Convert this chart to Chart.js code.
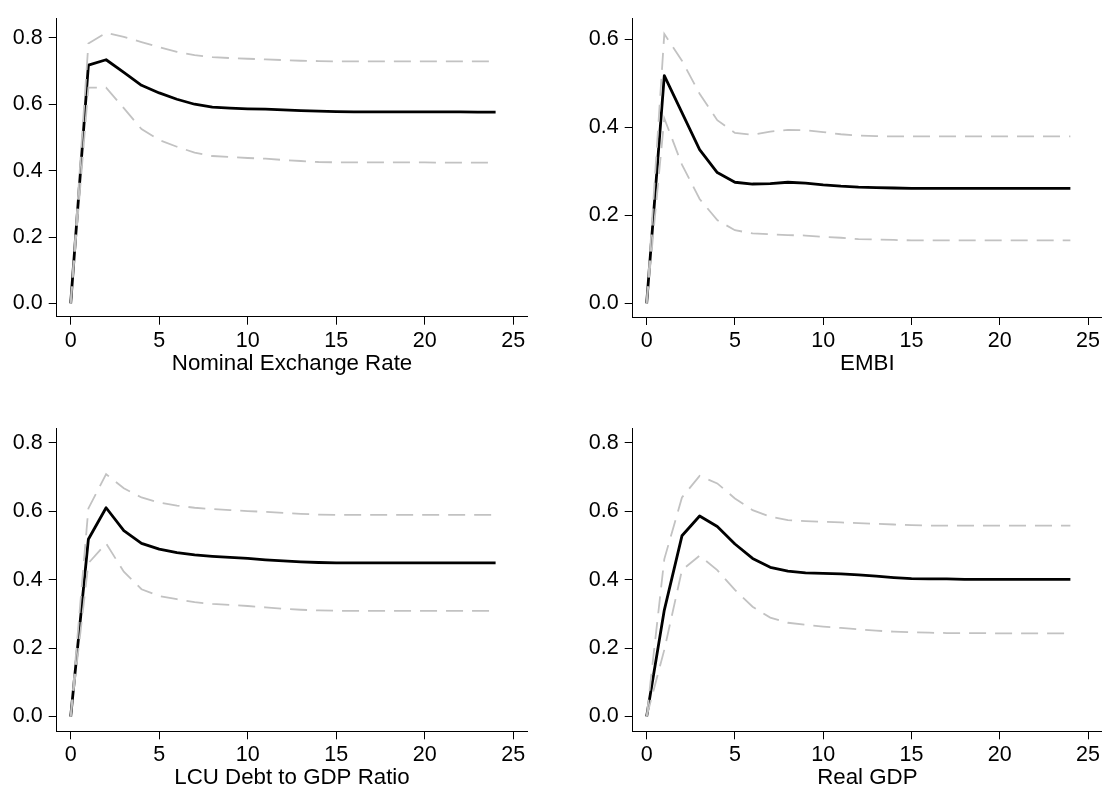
<!DOCTYPE html>
<html lang="en">

<head>
    <meta charset="UTF-8">
    <title>Impulse responses</title>
    <style>
        html, body {
            margin: 0;
            padding: 0;
            background: #fff;
            overflow: hidden;
        }

        .panel {
            position: absolute;
        }
    </style>
</head>

<body>
    <canvas id="p1" class="panel" width="550" height="400" style="left:0px;top:0px"></canvas>
    <canvas id="p2" class="panel" width="553" height="400" style="left:550px;top:0px"></canvas>
    <canvas id="p3" class="panel" width="550" height="410" style="left:0px;top:390px"></canvas>
    <canvas id="p4" class="panel" width="553" height="410" style="left:550px;top:390px"></canvas>

    <script src="https://cdn.jsdelivr.net/npm/chart.js"></script>
    <script>
        // horizon (periods after the shock)
        const periods = [0, 1, 2, 3, 4, 5, 6, 7, 8, 9, 10, 11, 12, 13, 14, 15, 16, 17, 18, 19, 20, 21, 22, 23, 24];
        const xTicks = [0, 5, 10, 15, 20, 25];

        // Nominal Exchange Rate
        const nerMid = [0, 0.718, 0.734, 0.696, 0.657, 0.634, 0.615, 0.600, 0.591, 0.588, 0.586, 0.585, 0.583, 0.581, 0.579, 0.578, 0.577, 0.577, 0.577, 0.577, 0.577, 0.577, 0.577, 0.576, 0.576];
        const nerHi = [0, 0.783, 0.815, 0.803, 0.787, 0.772, 0.758, 0.748, 0.742, 0.739, 0.737, 0.735, 0.733, 0.731, 0.730, 0.729, 0.729, 0.729, 0.729, 0.729, 0.729, 0.729, 0.729, 0.729, 0.729];
        const nerLo = [0, 0.650, 0.650, 0.588, 0.525, 0.492, 0.472, 0.454, 0.444, 0.441, 0.438, 0.436, 0.432, 0.429, 0.426, 0.425, 0.425, 0.425, 0.425, 0.425, 0.425, 0.424, 0.424, 0.424, 0.424];

        // EMBI
        const embiMid = [0, 0.517, 0.433, 0.349, 0.297, 0.275, 0.271, 0.272, 0.275, 0.273, 0.269, 0.266, 0.264, 0.263, 0.262, 0.261, 0.261, 0.261, 0.261, 0.261, 0.261, 0.261, 0.261, 0.261, 0.261];
        const embiHi = [0, 0.612, 0.551, 0.476, 0.416, 0.387, 0.383, 0.390, 0.394, 0.393, 0.389, 0.384, 0.381, 0.380, 0.379, 0.379, 0.379, 0.379, 0.379, 0.379, 0.379, 0.379, 0.379, 0.379, 0.379];
        const embiLo = [0, 0.420, 0.315, 0.237, 0.189, 0.166, 0.159, 0.157, 0.155, 0.154, 0.151, 0.149, 0.146, 0.145, 0.144, 0.143, 0.143, 0.143, 0.143, 0.143, 0.143, 0.143, 0.143, 0.143, 0.143];

        // LCU Debt to GDP Ratio
        const debtMid = [0, 0.518, 0.610, 0.543, 0.506, 0.489, 0.479, 0.472, 0.468, 0.465, 0.462, 0.458, 0.455, 0.452, 0.450, 0.449, 0.449, 0.449, 0.449, 0.449, 0.449, 0.449, 0.449, 0.449, 0.449];
        const debtHi = [0, 0.608, 0.708, 0.667, 0.640, 0.625, 0.616, 0.610, 0.606, 0.603, 0.600, 0.598, 0.595, 0.592, 0.590, 0.589, 0.589, 0.589, 0.589, 0.589, 0.589, 0.589, 0.589, 0.589, 0.589];
        const debtLo = [0, 0.448, 0.506, 0.423, 0.372, 0.352, 0.343, 0.334, 0.329, 0.326, 0.323, 0.319, 0.315, 0.312, 0.310, 0.309, 0.309, 0.309, 0.309, 0.309, 0.309, 0.309, 0.309, 0.309, 0.309];

        // Real GDP
        const gdpMid = [0, 0.311, 0.528, 0.586, 0.555, 0.504, 0.462, 0.436, 0.425, 0.420, 0.418, 0.417, 0.414, 0.410, 0.406, 0.403, 0.402, 0.402, 0.401, 0.401, 0.401, 0.401, 0.401, 0.401, 0.401];
        const gdpHi = [0, 0.460, 0.640, 0.703, 0.681, 0.637, 0.603, 0.584, 0.574, 0.571, 0.569, 0.567, 0.565, 0.563, 0.561, 0.559, 0.558, 0.558, 0.558, 0.558, 0.558, 0.558, 0.558, 0.558, 0.558];
        const gdpLo = [0, 0.195, 0.428, 0.470, 0.428, 0.370, 0.321, 0.289, 0.274, 0.268, 0.263, 0.259, 0.255, 0.251, 0.248, 0.246, 0.245, 0.244, 0.244, 0.244, 0.243, 0.243, 0.243, 0.243, 0.243];

        const ticksTo8 = [0, 0.2, 0.4, 0.6, 0.8];
        const ticksTo6 = [0, 0.2, 0.4, 0.6];

        const FONT = "'Liberation Sans', Arial, Helvetica, sans-serif";

        function pts(vals) {
            return periods.map((p, i) => ({ x: p, y: vals[i] }));
        }

        function makePanel(id, title, mid, hi, lo, yTicks, yMin, yMax, geo) {
            const band = {
                borderColor: '#c2c2c2',
                borderWidth: 1.8,
                borderDash: [17, 9],
                pointRadius: 0,
                fill: false,
                tension: 0
            };
            new Chart(document.getElementById(id), {
                type: 'line',
                data: {
                    datasets: [
                        Object.assign({ label: 'upper', data: pts(hi) }, band),
                        Object.assign({ label: 'lower', data: pts(lo) }, band),
                        {
                            label: 'irf',
                            data: pts(mid),
                            borderColor: '#000',
                            borderWidth: 2.8,
                            borderJoinStyle: 'round',
                            pointRadius: 0,
                            fill: false,
                            tension: 0
                        }
                    ]
                },
                options: {
                    responsive: false,
                    animation: false,
                    events: [],
                    layout: {
                        padding: { left: 0, top: geo.top, right: geo.right, bottom: 0 }
                    },
                    plugins: {
                        legend: { display: false },
                        tooltip: { enabled: false }
                    },
                    scales: {
                        x: {
                            type: 'linear',
                            min: -0.79,
                            max: 25.79,
                            afterBuildTicks: s => { s.ticks = xTicks.map(v => ({ value: v })); },
                            afterFit: s => { s.height = geo.xh; },
                            border: { display: true, color: '#000', width: 1 },
                            grid: { drawOnChartArea: false, drawTicks: true, tickLength: 8, tickColor: '#000' },
                            ticks: {
                                color: '#000',
                                padding: 3,
                                maxRotation: 0,
                                autoSkip: false,
                                font: { family: FONT, size: 21.5 }
                            },
                            title: {
                                display: true,
                                text: title,
                                color: '#000',
                                font: { family: FONT, size: 22.3, lineHeight: 1.2 },
                                padding: { top: 0, bottom: geo.tb }
                            }
                        },
                        y: {
                            min: yMin,
                            max: yMax,
                            afterBuildTicks: s => { s.ticks = yTicks.map(v => ({ value: v })); },
                            afterFit: s => { s.width = geo.yw; },
                            border: { display: true, color: '#000', width: 1 },
                            grid: { drawOnChartArea: false, drawTicks: true, tickLength: 8, tickColor: '#000' },
                            ticks: {
                                color: '#000',
                                padding: 6,
                                autoSkip: false,
                                font: { family: FONT, size: 21.5 },
                                callback: v => v.toFixed(1)
                            }
                        }
                    }
                }
            });
        }

        makePanel('p1', 'Nominal Exchange Rate', nerMid, nerHi, nerLo, ticksTo8, -0.04, 0.857,
            { top: 14, right: 22.7, yw: 56.7, xh: 83.3, tb: 22.6 });
        makePanel('p2', 'EMBI', embiMid, embiHi, embiLo, ticksTo6, -0.031, 0.646,
            { top: 14, right: 0, yw: 82.7, xh: 83, tb: 22.6 });
        makePanel('p3', 'LCU Debt to GDP Ratio', debtMid, debtHi, debtLo, ticksTo8, -0.043, 0.842,
            { top: 38.3, right: 22.7, yw: 56.7, xh: 68.7, tb: 9.1 });
        makePanel('p4', 'Real GDP', gdpMid, gdpHi, gdpLo, ticksTo8, -0.043, 0.842,
            { top: 38.3, right: 0, yw: 82.7, xh: 68.7, tb: 9.1 });
    </script>
</body>

</html>
